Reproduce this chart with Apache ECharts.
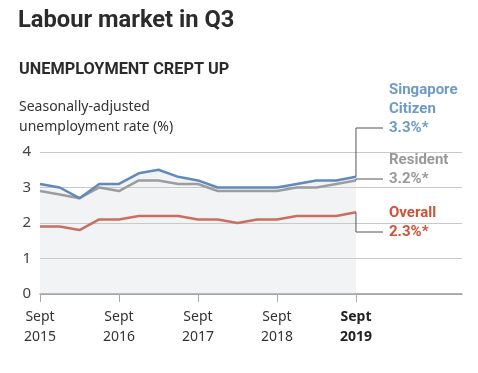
<!DOCTYPE html>
<html><head><meta charset="utf-8">
<script src="https://cdn.jsdelivr.net/npm/echarts@6/dist/echarts.min.js"></script>
<style>html,body{margin:0;padding:0;background:#fff}#c{width:478px;height:373px}</style>
</head><body><div id="c"></div>
<script>
var quarters = ['Sept 2015','Dec 2015','Mar 2016','Jun 2016','Sept 2016','Dec 2016','Mar 2017','Jun 2017','Sept 2017','Dec 2017','Mar 2018','Jun 2018','Sept 2018','Dec 2018','Mar 2019','Jun 2019','Sept 2019'];
var citizen  = [3.1,3.0,2.7,3.1,3.1,3.4,3.5,3.3,3.2,3.0,3.0,3.0,3.0,3.1,3.2,3.2,3.3];
var resident = [2.9,2.8,2.7,3.0,2.9,3.2,3.2,3.1,3.1,2.9,2.9,2.9,2.9,3.0,3.0,3.1,3.2];
var overall  = [1.9,1.9,1.8,2.1,2.1,2.2,2.2,2.2,2.1,2.1,2.0,2.1,2.1,2.2,2.2,2.2,2.3];
var xTickIdx = [0,4,8,12,16];
var xTickLabels = ['Sept\n2015','Sept\n2016','Sept\n2017','Sept\n2018','Sept\n2019'];
var seriesNames = [['Singapore','Citizen'],['Resident'],['Overall']];
var yTicks = [0,1,2,3,4];

var FONT = '"Noto Sans", Roboto, sans-serif';
var HFONT = 'Roboto, "Noto Sans", sans-serif';
var colors = ['#6189ba','#8d8d8d','#c94f3b'];
var textColors = ['#6e9ac6','#999999','#cf5237'];

function pts(arr){ return arr.map(function(v,i){ return [i,v]; }); }

var chart = echarts.init(document.getElementById('c'), null, {renderer:'canvas'});
var option = {
  animation:false,
  grid:{left:40,right:16,top:152,bottom:79,containLabel:false},
  xAxis:{
    type:'value', min:0, max:21.37,
    axisLine:{show:true,lineStyle:{color:'#9a9a9a',width:1.5}},
    axisTick:{show:true,length:8,lineStyle:{color:'#aaa',width:1},customValues:xTickIdx},
    axisLabel:{customValues:xTickIdx,margin:13,fontFamily:FONT,fontSize:14,color:'#333',lineHeight:20,
      formatter:function(v){ var k=xTickIdx.indexOf(v); if(k<0) return ''; return k===xTickIdx.length-1?'{b|'+xTickLabels[k]+'}':xTickLabels[k]; },
      rich:{b:{fontWeight:'bold',fontFamily:FONT,fontSize:14,color:'#222',lineHeight:20}}},
    splitLine:{show:false}
  },
  yAxis:{
    type:'value', min:0, max:4, interval:1,
    axisLine:{show:false}, axisTick:{show:false},
    axisLabel:{margin:9,fontFamily:FONT,fontSize:15,color:'#444'},
    splitLine:{lineStyle:{color:'#c9c9c9',width:1}}
  },
  series:[
    {name:'Overall',type:'line',data:pts(overall),symbol:'none',lineStyle:{color:colors[2],width:2.5},z:3},
    {name:'Resident',type:'line',data:pts(resident),symbol:'none',lineStyle:{color:colors[1],width:2.5},z:3},
    {name:'Citizen',type:'line',data:pts(citizen),symbol:'none',lineStyle:{color:colors[0],width:2.5},
      areaStyle:{color:'rgba(200,206,214,0.36)',origin:'start'},z:4}
  ]
};
chart.setOption(option);

var ends = [citizen, resident, overall].map(function(a){ return chart.convertToPixel({gridIndex:0},[a.length-1,a[a.length-1]]); });
var anchorY = [128,179,232];
var tx = 389, lx = 383;
var g = [
  {type:'text',left:18,top:9,style:{text:'Labour market in Q3',font:'bold 23.7px '+HFONT,fill:'#2b2b2b'}},
  {type:'text',left:19,top:62,style:{text:'UNEMPLOYMENT CREPT UP',font:'bold 16.3px '+HFONT,fill:'#2b2b2b'}},
  {type:'text',left:19,top:97,style:{text:'Seasonally-adjusted\nunemployment rate (%)',font:'14px '+FONT,fill:'#333',lineHeight:20}}
];
var lasts = [citizen, resident, overall];
for (var s=0;s<3;s++){
  var e = ends[s], ay = anchorY[s];
  g.push({type:'polyline',shape:{points:[[e[0],e[1]],[e[0],ay],[lx,ay]]},style:{stroke:'#555',lineWidth:1,fill:null},z:10});
  var lines = seriesNames[s].slice();
  var last = lasts[s][lasts[s].length-1];
  lines.push(last.toFixed(1)+'%*');
  var n = lines.length;
  g.push({type:'text',x:tx,y:ay+10-n*19,style:{text:lines.join('\n'),font:'bold 15px '+HFONT,fill:textColors[s],lineHeight:19,verticalAlign:'top'},z:10});
}
chart.setOption({graphic:g});
</script></body></html>
